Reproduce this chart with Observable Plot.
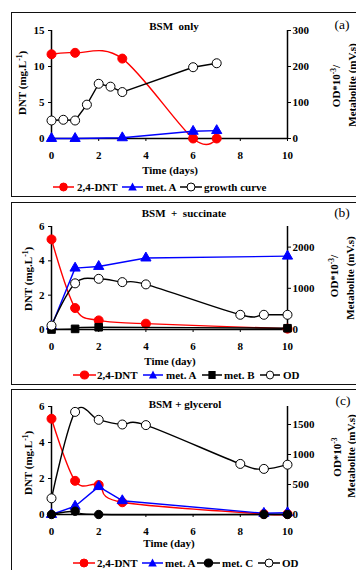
<!DOCTYPE html>
<html><head><meta charset="utf-8">
<script src="https://cdn.jsdelivr.net/npm/d3@7"></script>
<script src="https://cdn.jsdelivr.net/npm/@observablehq/plot@0.6"></script>
<style>
html,body{margin:0;padding:0;background:#fff;}
body{width:356px;height:570px;overflow:hidden;position:relative;font-family:"Liberation Serif","Times New Roman",serif;}
.panel{position:absolute;left:11px;width:420px;border:1.8px solid #111;box-sizing:border-box;}
.t{position:absolute;white-space:nowrap;font-weight:bold;font-size:11px;color:#000;transform:translate(-50%,-50%);line-height:1;}
.rot{transform:translate(-50%,-50%) rotate(-90deg);}
.sup{font-size:7.5px;position:relative;top:-4px;}
.plotwrap{position:absolute;left:0;}
.lg{position:absolute;}
</style>
</head><body>
<div class="panel" style="top:12px;height:184.5px"></div>
<div class="panel" style="top:201.7px;height:183.3px"></div>
<div class="panel" style="top:389.3px;height:220px"></div>
<script>
const xTicks = [0, 2, 4, 6, 8, 10];

// (a) BSM only
const aDntDays = [0, 1, 3, 6, 7];
const aDnt = [11.7, 11.9, 11.1, 0, 0];
const aMetADays = [0, 1, 3, 6, 7];
const aMetA = [0, 0, 2, 20, 22];
const aOdDays = [0, 0.5, 1, 1.5, 2, 2.5, 3, 6, 7];
const aOd = [50, 52, 50, 94, 152, 144, 129, 198, 209];
const aLeftTicks = [0, 5, 10, 15];
const aRightTicks = [0, 100, 200, 300];

// (b) BSM + succinate
const bDntDays = [0, 1, 2, 4, 10];
const bDnt = [5.25, 1.25, 0.53, 0.34, 0.05];
const bMetADays = [0, 1, 2, 4, 10];
const bMetA = [80, 1490, 1530, 1735, 1780];
const bMetBDays = [0, 1, 2, 10];
const bMetB = [0, 15, 55, 30];
const bOdDays = [0, 1, 2, 3, 4, 8, 9, 10];
const bOd = [95, 1120, 1230, 1150, 1095, 357, 357, 357];
const bLeftTicks = [0, 2, 4, 6];
const bRightTicks = [0, 1000, 2000];

// (c) BSM + glycerol
const cDntDays = [0, 1, 2, 3, 9, 10];
const cDnt = [5.32, 1.87, 1.64, 0.68, 0.03, 0.03];
const cMetADays = [0, 1, 2, 3, 9, 10];
const cMetA = [0, 138, 465, 230, 20, 30];
const cMetCDays = [0, 1, 2, 9, 10];
const cMetC = [0, 55, 0, 0, 0];
const cOdDays = [0, 1, 2, 3, 4, 8, 9, 10];
const cOd = [270, 1710, 1578, 1500, 1490, 843, 760, 830];
const cLeftTicks = [0, 2, 4, 6];
const cRightTicks = [0, 500, 1000, 1500];

const RED = "#ff0000", BLUE = "#0000ff", BLACK = "#000000";

function drawPanel(cfg) {
  const k = cfg.leftMax / cfg.rightMax;
  const marks = [];
  for (const s of cfg.series) {
    const rows = s.days.map((d, i) => ({day: d, val: s.right ? s.values[i] * k : s.values[i]}));
    marks.push(Plot.line(rows, {x: "day", y: "val", stroke: s.color, strokeWidth: 1.4, curve: s.curve}));
    marks.push(Plot.dot(rows, {x: "day", y: "val", symbol: s.symbol, r: s.r, fill: s.fill, stroke: s.stroke, strokeWidth: 1}));
  }
  const chart = Plot.plot({
    width: 356, height: cfg.height,
    marginLeft: 51, marginRight: 69, marginTop: cfg.mt, marginBottom: cfg.mb,
    style: {background: "transparent", fontFamily: "'Liberation Serif','Times New Roman',serif", fontSize: "11px", fontWeight: "bold", overflow: "visible", color: "#000"},
    x: {domain: [0, 10]},
    y: {domain: [0, cfg.leftMax]},
    marks: [
      Plot.axisX({ticks: xTicks, tickSize: 3, tickPadding: 10, label: null, tickFormat: d => String(d)}),
      Plot.axisY({ticks: cfg.leftTicks, anchor: "left", tickSize: 3, tickPadding: 4, label: null, tickFormat: d => String(d)}),
      Plot.axisY(cfg.rightTicks.map(v => v * k), {anchor: "right", tickSize: 3, tickPadding: 2, label: null, tickFormat: d => String(Math.round(d / k))}),
      Plot.ruleY([0], {strokeWidth: 1.5}),
      Plot.ruleX([0], {strokeWidth: 1.5}),
      Plot.ruleX([10], {strokeWidth: 1.5}),
      ...marks
    ]
  });
  const wrap = document.createElement("div");
  wrap.className = "plotwrap";
  wrap.style.top = cfg.top + "px";
  wrap.appendChild(chart);
  document.body.appendChild(wrap);
}

function txt(html, x, y, extra = "", cls = "t") {
  const d = document.createElement("div");
  d.className = cls;
  d.style.left = x + "px";
  d.style.top = y + "px";
  if (extra) d.style.cssText += extra;
  d.innerHTML = html;
  document.body.appendChild(d);
}

function symbolSvg(kind, color) {
  if (kind === "circle") return `<circle cx="11" cy="6" r="4" fill="${color}" stroke="${color}"/>`;
  if (kind === "open") return `<circle cx="11" cy="6" r="4" fill="#fff" stroke="#000" stroke-width="1"/>`;
  if (kind === "triangle") return `<path d="M11,1.5 L15.5,9.5 L6.5,9.5 Z" fill="${color}"/>`;
  if (kind === "square") return `<rect x="7" y="2" width="8" height="8" fill="${color}"/>`;
  return "";
}
function legendItem(x1, x2, y, color, kind, label, textX) {
  const w = x2 - x1;
  const d = document.createElement("div");
  d.className = "lg";
  d.style.left = x1 + "px";
  d.style.top = (y - 6) + "px";
  d.innerHTML = `<svg width="${w}" height="12" viewBox="0 0 22 12" preserveAspectRatio="none" style="display:block;overflow:visible"><line x1="0" y1="6" x2="22" y2="6" stroke="${color}" stroke-width="1.5"/>${symbolSvg(kind, color)}</svg>`;
  document.body.appendChild(d);
  const t = document.createElement("div");
  t.className = "t";
  t.style.left = textX + "px";
  t.style.top = y + "px";
  t.style.transform = "translate(0,-50%)";
  t.textContent = label;
  document.body.appendChild(t);
}

// Panel (a)
drawPanel({
  top: 12, height: 184, mt: 18, mb: 58, leftMax: 15, rightMax: 300,
  leftTicks: aLeftTicks, rightTicks: aRightTicks,
  series: [
    {days: aDntDays, values: aDnt, right: false, color: RED, curve: "cardinal", symbol: "circle", r: 4.5, fill: RED, stroke: RED},
    {days: aMetADays, values: aMetA, right: true, color: BLUE, curve: "linear", symbol: "triangle", r: 3.8, fill: BLUE, stroke: BLUE},
    {days: aOdDays, values: aOd, right: true, color: BLACK, curve: "linear", symbol: "circle", r: 4.5, fill: "#fff", stroke: BLACK}
  ]
});
// Panel (b)
drawPanel({
  top: 202, height: 182, mt: 24, mb: 55, leftMax: 6, rightMax: 2500,
  leftTicks: bLeftTicks, rightTicks: bRightTicks,
  series: [
    {days: bDntDays, values: bDnt, right: false, color: RED, curve: "cardinal", symbol: "circle", r: 4.5, fill: RED, stroke: RED},
    {days: bMetADays, values: bMetA, right: true, color: BLUE, curve: "linear", symbol: "triangle", r: 3.8, fill: BLUE, stroke: BLUE},
    {days: bMetBDays, values: bMetB, right: true, color: BLACK, curve: "cardinal", symbol: "square", r: 4.3, fill: BLACK, stroke: BLACK},
    {days: bOdDays, values: bOd, right: true, color: BLACK, curve: "cardinal", symbol: "circle", r: 4.5, fill: "#fff", stroke: BLACK}
  ]
});
// Panel (c)
drawPanel({
  top: 390, height: 180, mt: 16, mb: 56, leftMax: 6, rightMax: 1800,
  leftTicks: cLeftTicks, rightTicks: cRightTicks,
  series: [
    {days: cDntDays, values: cDnt, right: false, color: RED, curve: "cardinal", symbol: "circle", r: 4.5, fill: RED, stroke: RED},
    {days: cMetADays, values: cMetA, right: true, color: BLUE, curve: "linear", symbol: "triangle", r: 3.8, fill: BLUE, stroke: BLUE},
    {days: cMetCDays, values: cMetC, right: true, color: BLACK, curve: "cardinal", symbol: "circle", r: 4.2, fill: BLACK, stroke: BLACK},
    {days: cOdDays, values: cOd, right: true, color: BLACK, curve: "cardinal", symbol: "circle", r: 4.5, fill: "#fff", stroke: BLACK}
  ]
});

// Titles and labels
txt("BSM&nbsp;&nbsp;only", 174, 26);
txt("BSM&nbsp;&nbsp;+&nbsp;&nbsp;succinate", 184, 213);
txt("BSM + glycerol", 185, 404);
const panelTag = "font-weight:normal;font-size:13.5px;";
txt("(a)", 342, 25, panelTag);
txt("(b)", 342, 213, panelTag);
txt("(c)", 343, 401, panelTag);
txt("Time (days)", 170, 170);
txt("Time (day)", 170, 361);
txt("Time (day)", 169, 543);
const dntLabel = 'DNT (mg.L<span class="sup">-1</span>)';
txt(dntLabel, 22, 83, "", "t rot");
txt(dntLabel, 28, 279, "", "t rot");
txt(dntLabel, 28, 463, "", "t rot");
txt('OD*10<span class="sup">-3</span>/', 336, 86, "", "t rot");
txt("Metabolite (mV.s)", 352, 85, "", "t rot");
txt('OD*10<span class="sup">-3</span>/', 334, 276, "", "t rot");
txt("Metabolite (mV.s)", 350, 278, "", "t rot");
txt('OD*10<span class="sup">-3</span>', 337, 457, "", "t rot");
txt("Metabolite (mV.s)", 351, 456, "", "t rot");

// Legends
legendItem(53, 74, 187, RED, "circle", "2,4-DNT", 77);
legendItem(122, 143, 187, BLUE, "triangle", "met. A", 146);
legendItem(180, 202, 187, BLACK, "open", "growth curve", 204);

legendItem(73, 96, 374.7, RED, "circle", "2,4-DNT", 97);
legendItem(143, 163, 374.7, BLUE, "triangle", "met. A", 166);
legendItem(202, 222, 374.7, BLACK, "square", "met. B", 224);
legendItem(260, 280, 374.7, BLACK, "open", "OD", 283);

legendItem(73, 95, 562.7, RED, "circle", "2,4-DNT", 97);
legendItem(142, 163, 562.7, BLUE, "triangle", "met. A", 165);
legendItem(197, 220, 562.7, BLACK, "circle", "met. C", 222);
legendItem(258, 280, 562.7, BLACK, "open", "OD", 282);
</script>
</body></html>
